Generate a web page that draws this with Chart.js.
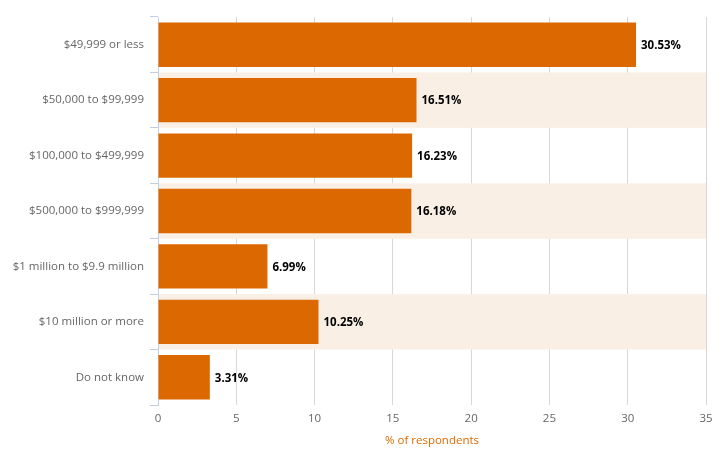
<!DOCTYPE html>
<html>
<head>
<meta charset="utf-8">
<script src="https://cdn.jsdelivr.net/npm/chart.js@4/dist/chart.umd.min.js"></script>
<style>
  html, body { margin: 0; padding: 0; background: #fff; }
  #wrap { width: 725px; height: 465px; position: relative; }
</style>
</head>
<body>
<div id="wrap"><canvas id="chart"></canvas></div>
<script>
const categories = [
  "$49,999 or less",
  "$50,000 to $99,999",
  "$100,000 to $499,999",
  "$500,000 to $999,999",
  "$1 million to $9.9 million",
  "$10 million or more",
  "Do not know"
]
const values = [30.53, 16.51, 16.23, 16.18, 6.99, 10.25, 3.31]
const xTicks = [0, 5, 10, 15, 20, 25, 30, 35]

const fontFamily = '"Open Sans", "DejaVu Sans", sans-serif'

// light stripes behind every second category
const stripes = {
  id: 'stripes',
  beforeDatasetsDraw(chart) {
    const { ctx, chartArea, scales } = chart
    const y = scales.y
    const step = y.getPixelForValue(1) - y.getPixelForValue(0)
    ctx.save()
    ctx.fillStyle = '#faefe5'
    for (let i = 1; i < categories.length; i += 2) {
      const c = y.getPixelForValue(i)
      ctx.fillRect(chartArea.left + 1, c - step / 2, chartArea.right - chartArea.left - 1, step)
    }
    ctx.restore()
  }
}

// value labels at the end of each bar
const valueLabels = {
  id: 'valueLabels',
  afterDatasetsDraw(chart) {
    const { ctx } = chart
    const meta = chart.getDatasetMeta(0)
    ctx.save()
    ctx.font = 'bold 11.5px ' + fontFamily
    ctx.fillStyle = '#000'
    ctx.textBaseline = 'middle'
    meta.data.forEach((bar, i) => {
      ctx.fillText(values[i].toFixed(2) + '%', bar.x + 5, bar.y + 1)
    })
    ctx.restore()
  }
}

const ctx = document.getElementById('chart')
new Chart(ctx, {
  type: 'bar',
  data: {
    labels: categories,
    datasets: [{
      data: values,
      backgroundColor: '#db6800',
      barPercentage: 0.8,
      categoryPercentage: 1.0
    }]
  },
  plugins: [stripes, valueLabels],
  options: {
    indexAxis: 'y',
    responsive: true,
    maintainAspectRatio: false,
    animation: false,
    layout: { padding: { top: 17, right: 19, left: 0, bottom: 0 } },
    scales: {
      x: {
        min: 0,
        max: 35,
        afterBuildTicks: (scale) => { scale.ticks = xTicks.map(v => ({ value: v })) },
        afterFit: (scale) => { scale.height = 60 },
        border: { display: false },
        grid: { color: '#d8d8d8', drawTicks: false },
        ticks: { color: '#666', padding: 7, font: { family: fontFamily, size: 11.5 } },
        title: {
          display: true,
          text: '% of respondents',
          color: '#d96a00',
          padding: { top: 6, bottom: 17 },
          font: { family: fontFamily, size: 11.5 }
        }
      },
      y: {
        afterFit: (scale) => { scale.width = 158 },
        border: { color: '#c0d0e0' },
        grid: { color: '#c0d0e0', drawOnChartArea: false, tickLength: 8 },
        ticks: { color: '#666', padding: 6, font: { family: fontFamily, size: 11.5 } }
      }
    },
    plugins: {
      legend: { display: false },
      tooltip: { enabled: false }
    }
  }
})
</script>
</body>
</html>
